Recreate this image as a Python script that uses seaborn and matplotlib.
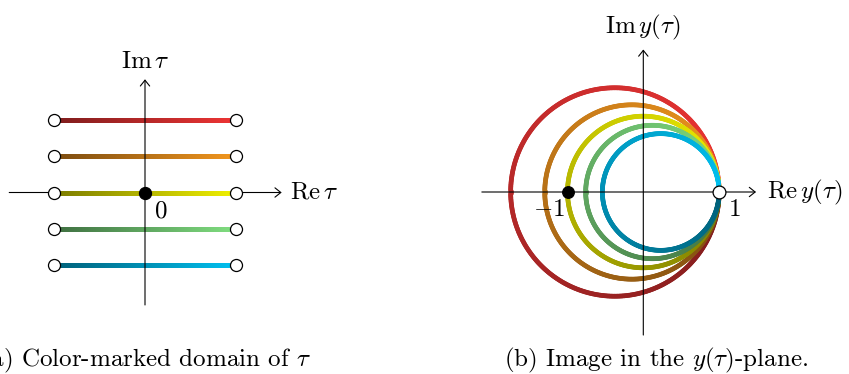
import numpy as np
import matplotlib
matplotlib.use("Agg")
import matplotlib.pyplot as plt
from matplotlib.collections import LineCollection
from matplotlib.colors import to_rgb
import seaborn as sns

sns.set_theme(style="white")
plt.rcParams["font.family"] = ["cmr10", "DejaVu Serif"]
plt.rcParams["mathtext.fontset"] = "cm"
plt.rcParams["axes.formatter.use_mathtext"] = True
plt.rcParams["text.color"] = "black"

# Horizontal lines Im(tau) = const in the tau-plane
im_levels = [2, 1, 0, -1, -2]
re_half_width = 2.5

# Their images: circles through y = 1, tangent there, centred on the real axis
circle_radii = [1.375, 1.15, 1.0, 0.88, 0.77]

# Colour shading along each curve: dark at Re(tau) = -w, bright at Re(tau) = +w
bright_colors = ["#ee3434", "#f2961e", "#f0f000", "#80de80", "#00c0f0"]
dark_colors = ["#7d1c1c", "#7a4b10", "#7a7a00", "#3e6e40", "#005f78"]

FIG_W, FIG_H = 849, 374
fig = plt.figure(figsize=(FIG_W / 100, FIG_H / 100), dpi=100)
fig.patch.set_facecolor("white")


def make_axes(px_left, px_right, px_top, px_bottom, origin, unit):
    ox, oy = origin
    ax = fig.add_axes([px_left / FIG_W, (FIG_H - px_bottom) / FIG_H,
                       (px_right - px_left) / FIG_W, (px_bottom - px_top) / FIG_H])
    ax.set_xlim((px_left - ox) / unit, (px_right - ox) / unit)
    ax.set_ylim((oy - px_bottom) / unit, (oy - px_top) / unit)
    ax.set_axis_off()
    return ax


def arrow(ax, start, end, z=4):
    ax.annotate("", xy=end, xytext=start,
                arrowprops=dict(arrowstyle="->,head_length=0.35,head_width=0.28",
                                lw=0.8, color="black", shrinkA=0, shrinkB=0),
                zorder=z)


def shade(c0, c1, n):
    a, b = np.array(to_rgb(c0)), np.array(to_rgb(c1))
    t = np.linspace(0, 1, n)[:, None]
    return a * (1 - t) + b * t


def gradient_line(ax, xs, ys, c0, c1, lw, z):
    pts = np.column_stack([xs, ys])
    segs = np.stack([pts[:-1], pts[1:]], axis=1)
    lc = LineCollection(segs, colors=shade(c0, c1, len(segs)), linewidths=lw,
                        capstyle="round", joinstyle="round", zorder=z)
    ax.add_collection(lc)


LW = 3.4
N = 400

# ---- (a) domain in the tau-plane ----
axa = make_axes(0, 300, 30, 330, origin=(145, 192.5), unit=36.4)
arrow(axa, (-3.73, 0), (3.755, 0), z=1)
arrow(axa, (0, -3.09), (0, 3.11), z=4)
for k, lvl in enumerate(im_levels):
    xs = np.linspace(-re_half_width, re_half_width, N)
    gradient_line(axa, xs, np.full_like(xs, lvl), dark_colors[k], bright_colors[k], LW, 2)
ends_x = [-re_half_width] * len(im_levels) + [re_half_width] * len(im_levels)
ends_y = im_levels + im_levels
sns.scatterplot(x=ends_x, y=ends_y, ax=axa, s=75, color="white",
                edgecolor="black", linewidth=0.9, zorder=6, legend=False)
sns.scatterplot(x=[0], y=[0], ax=axa, s=75, color="black",
                edgecolor="black", linewidth=0.9, zorder=6, legend=False)
axa.text(0, 3.585, r"$\mathrm{Im}\,\tau$", ha="center", va="center", fontsize=18)
axa.text(3.98, 0, r"$\mathrm{Re}\,\tau$", ha="left", va="center", fontsize=18)
axa.text(0.44, -0.53, r"$0$", ha="center", va="center", fontsize=18)

# ---- (b) image in the y-plane ----
axb = make_axes(470, 849, 0, 350, origin=(643.3, 192), unit=75.8)
for k, R in enumerate(circle_radii):
    phi = np.linspace(0, -2 * np.pi, N)
    cx = 1 - R
    gradient_line(axb, cx + R * np.cos(phi), R * np.sin(phi),
                  dark_colors[k], bright_colors[k], LW, 2 + 0.1 * k)
arrow(axb, (-2.13, 0), (1.487, 0))
arrow(axb, (0, -1.887), (0, 1.88))
sns.scatterplot(x=[1], y=[0], ax=axb, s=85, color="white",
                edgecolor="black", linewidth=0.9, zorder=6, legend=False)
sns.scatterplot(x=[-1], y=[0], ax=axb, s=70, color="black",
                edgecolor="black", linewidth=0.9, zorder=6, legend=False)
axb.text(-0.01, 2.177, r"$\mathrm{Im}\,y(\tau)$", ha="center", va="center", fontsize=18)
axb.text(1.628, 0, r"$\mathrm{Re}\,y(\tau)$", ha="left", va="center", fontsize=18)
axb.text(-1.25, -0.237, r"$-1$", ha="center", va="center", fontsize=18)
axb.text(1.206, -0.233, r"$1$", ha="center", va="center", fontsize=18)

# ---- captions ----
fig.text(311 / FIG_W, (FIG_H - 366) / FIG_H, r"(a) Color-marked domain of $\tau$",
         ha="right", va="baseline", fontsize=18)
fig.text(656 / FIG_W, (FIG_H - 366) / FIG_H, r"(b) Image in the $y(\tau)$-plane.",
         ha="center", va="baseline", fontsize=18)

fig.savefig("out.png", dpi=100, facecolor="white")
